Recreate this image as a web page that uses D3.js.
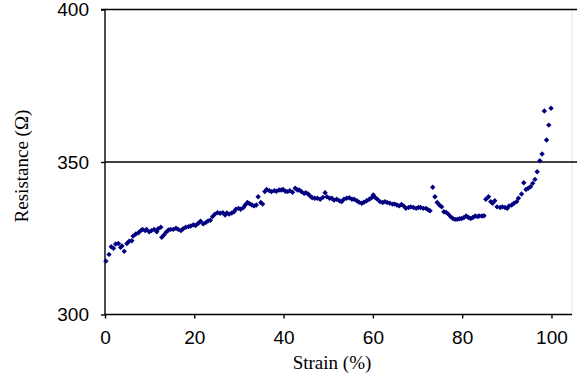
<!DOCTYPE html>
<html><head><meta charset="utf-8">
<script src="https://cdn.jsdelivr.net/npm/d3@7"></script>
<style>body{margin:0;background:#fff}svg{display:block}</style>
</head><body>
<svg id="c" width="577" height="375"></svg>
<script>
const strain = [0.2,0.9,1.4,1.9,2.4,3.0,3.5,3.8,4.3,4.9,5.4,6.0,6.3,6.9,7.5,8.0,8.4,9.0,9.3,9.9,10.4,11.0,11.6,11.9,12.5,12.7,13.2,13.7,14.2,14.7,15.3,15.9,16.4,17.0,17.5,18.1,18.7,19.2,19.8,20.3,20.9,21.4,22.0,22.6,23.1,23.6,24.1,24.6,25.2,25.8,26.4,26.9,27.3,27.8,28.4,28.9,29.3,29.9,30.4,31.0,31.4,31.9,32.4,32.9,33.4,33.9,34.3,34.9,35.3,35.8,36.2,36.8,37.3,37.9,38.4,39.0,39.5,39.9,40.4,40.9,41.4,42.0,42.6,43.1,43.5,44.0,44.6,45.0,45.5,45.9,46.4,47.0,47.6,48.2,48.8,49.3,49.7,50.3,50.8,51.3,51.9,52.5,53.0,53.5,54.1,54.7,55.3,55.8,56.4,56.9,57.5,58.0,58.6,59.2,59.7,60.1,60.5,61.0,61.6,62.2,62.7,63.2,63.8,64.4,64.9,65.4,65.9,66.4,66.9,67.4,68.0,68.5,69.1,69.7,70.2,70.7,71.3,71.9,72.4,72.8,73.4,73.9,74.4,74.9,75.4,75.9,76.4,76.9,77.4,77.9,78.4,78.9,79.4,79.9,80.4,80.9,81.4,81.9,82.4,82.9,83.4,83.8,84.4,84.9,85.3,85.9,86.4,86.8,87.3,87.8,88.5,89.0,89.6,90.1,90.5,91.1,91.6,92.2,92.6,93.3,93.8,94.3,94.8,95.3,95.8,96.3,96.8,97.4,97.9,98.4,98.9,99.4,99.9];
const resistance = [317.5,319.7,322.2,321.7,323.1,323.3,322.0,322.5,320.7,323.3,324.0,324.2,325.7,326.4,326.8,327.5,327.9,327.5,327.9,327.1,327.5,327.9,327.1,328.1,328.6,325.3,326.1,327.0,327.7,327.9,327.9,328.3,327.9,327.5,328.1,328.6,328.8,329.0,329.4,329.2,329.9,330.6,329.7,330.2,330.7,330.9,332.1,332.9,333.4,333.2,333.4,332.6,333.3,332.9,333.3,333.7,334.5,334.8,334.5,335.1,335.9,336.7,336.3,335.9,335.6,335.9,338.6,336.7,336.2,340.3,341.0,340.6,340.3,340.6,340.4,340.8,340.8,341.0,340.4,340.3,340.6,340.1,341.4,340.8,340.8,340.3,339.7,339.9,339.5,338.9,338.3,338.1,338.1,337.8,338.4,339.9,338.6,338.1,338.1,337.5,337.8,337.3,337.0,337.8,338.1,338.3,337.8,337.8,337.3,336.8,336.5,336.8,337.3,337.8,338.3,339.2,338.4,337.8,337.0,336.7,337.0,336.7,336.5,336.2,336.2,335.9,335.6,336.1,335.6,334.8,335.1,335.3,335.1,334.8,335.1,335.1,334.8,334.8,334.3,334.0,341.7,338.6,336.7,335.9,335.3,333.7,333.5,332.9,332.1,331.5,331.2,331.2,331.4,331.5,331.8,332.3,331.8,331.5,331.8,332.3,332.1,332.3,332.3,332.4,337.8,338.6,337.0,336.5,337.3,335.3,335.1,335.3,335.1,334.8,335.6,335.9,336.5,337.0,338.1,339.5,343.2,341.0,341.4,341.9,343.0,344.3,346.8,350.4,352.6,366.7,357.2,362.1,367.6];
const xTicks = [0,20,40,60,80,100];
const yTicks = [300,350,400];
const xTitle = "Strain (%)";
const yTitle = "Resistance (\u03A9)";

const svg = d3.select("#c");
const L = 105, R = 572, T = 9.5, B = 314.5;
const x = d3.scaleLinear().domain([0,104.6]).range([L,R]);
const y = d3.scaleLinear().domain([300,400]).range([B,T]);

// light right border
svg.append("line").attr("x1",R).attr("x2",R).attr("y1",T).attr("y2",B).attr("stroke","#e4e4e4").attr("stroke-width",1);

// gridlines (350, 400)
svg.append("g").selectAll("line").data(yTicks.filter(d=>d>300)).join("line")
  .attr("x1",L).attr("x2",577).attr("y1",d=>y(d)).attr("y2",d=>y(d))
  .attr("stroke","#000").attr("stroke-width",1.4);

const yAxis = svg.append("g").attr("transform",`translate(${L},0)`)
  .call(d3.axisLeft(y).tickValues(yTicks).tickSize(4).tickPadding(12).tickFormat(d3.format("d")));
const xAxis = svg.append("g").attr("transform",`translate(0,${B})`)
  .call(d3.axisBottom(x).tickValues(xTicks).tickSize(4).tickPadding(12).tickFormat(d3.format("d")));
[yAxis,xAxis].forEach(g=>{
  g.select(".domain").attr("stroke","#000").attr("stroke-width",1.4);
  g.selectAll(".tick line").attr("stroke","#000").attr("stroke-width",1.4);
  g.selectAll("text").attr("font-family","Liberation Sans, Arial, sans-serif").attr("font-size",19).attr("fill","#000");
});
yAxis.select(".domain").attr("d",`M-4,${T}H0V${B}`);
xAxis.select(".domain").attr("d",`M${L},0H${R}`);

// points
const data = strain.map((s,i)=>({s, r: resistance[i]}));
const h = 2.7;
svg.append("g").selectAll("path").data(data).join("path")
  .attr("d",d=>{const cx=x(d.s), cy=y(d.r); return `M${cx},${cy-h}L${cx+h},${cy}L${cx},${cy+h}L${cx-h},${cy}Z`;})
  .attr("fill","#000080");

svg.append("text").attr("x",332).attr("y",369).attr("text-anchor","middle")
  .attr("font-family","Liberation Serif, Times New Roman, serif").attr("font-size",19).text(xTitle);
svg.append("text").attr("transform",`translate(28,${(T+B)/2+4}) rotate(-90)`).attr("text-anchor","middle")
  .attr("font-family","Liberation Serif, Times New Roman, serif").attr("font-size",19).text(yTitle);
</script>
</body></html>
